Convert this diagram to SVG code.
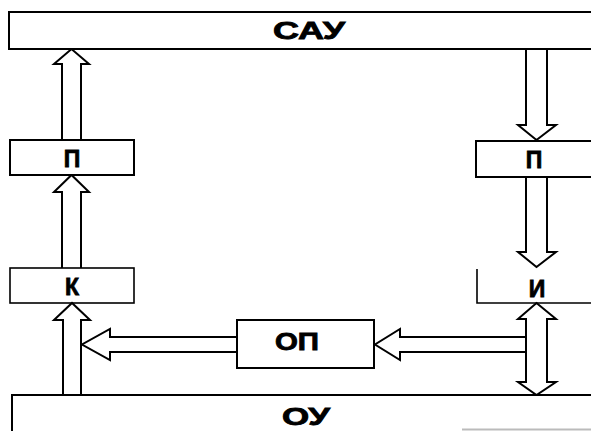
<svg xmlns="http://www.w3.org/2000/svg" width="591" height="431" viewBox="0 0 591 431">
  <style>
    .box { fill: #fff; stroke: #000; stroke-width: 2; }
    .thin { fill: none; stroke: #000; stroke-width: 1.6; }
    .arr { fill: #fff; stroke: #000; stroke-width: 2; stroke-linejoin: miter; }
    .lbl { font-family: "Liberation Sans", Arial, sans-serif; font-weight: 700; font-size: 23px; fill: #000; stroke: #000; stroke-width: 0.8; text-anchor: middle; }
  </style>
  <rect width="591" height="431" fill="#fff"/>

  <g id="connectors">
    <!-- П (left) -> САУ -->
    <path class="arr" d="M62,140 V64 H54 L71.5,49 L89,64 H81 V140"/>
    <!-- К -> П (left) -->
    <path class="arr" d="M62,268 V192 H54 L71.5,175 L89,192 H81 V268"/>
    <!-- ОУ -> К -->
    <path class="arr" d="M63,395 V320 H54 L72,303 L90,320 H81 V395"/>
    <!-- ОП -> left feedback -->
    <path class="arr" d="M237,337 H110 V329 L82,344.5 L110,360 V352 H237"/>
    <!-- right bus -> ОП -->
    <path class="arr" d="M526,337 H400 V329 L375,344.5 L400,360 V352 H526"/>
    <!-- САУ -> П (right) -->
    <path class="arr" d="M526,49 V125 H518 L536.5,140 L556,125 H547 V49"/>
    <!-- П (right) -> И -->
    <path class="arr" d="M526,177 V252 H518 L536.5,267 L556,252 H547 V177"/>
    <!-- И <-> ОУ -->
    <path class="arr" d="M536.5,303 L556,319 H547 V382 H556 L536.5,395 L518,382 H526 V319 H518 Z"/>
  </g>

  <g id="node-sau">
    <rect class="box" x="9" y="12" width="600" height="37"/>
    <text class="lbl" x="309" y="39" textLength="72" lengthAdjust="spacingAndGlyphs">САУ</text>
  </g>

  <g id="node-p-left">
    <rect class="box" x="10" y="140" width="124" height="35"/>
    <text class="lbl" x="72" y="167">П</text>
  </g>

  <g id="node-k">
    <rect class="thin" x="10" y="268" width="124" height="35"/>
    <text class="lbl" x="72" y="295">К</text>
  </g>

  <g id="node-p-right">
    <rect class="box" x="476" y="141" width="130" height="36"/>
    <text class="lbl" x="534" y="168">П</text>
  </g>

  <g id="node-i">
    <path class="thin" d="M477,269 V303 H591"/>
    <text class="lbl" x="537" y="297">И</text>
  </g>

  <g id="node-op">
    <rect class="box" x="237" y="320" width="137" height="48"/>
    <text class="lbl" x="297" y="350" textLength="44" lengthAdjust="spacingAndGlyphs">ОП</text>
  </g>

  <g id="node-ou">
    <path class="box" d="M12,440 V395 H600" fill="none"/>
    <line x1="462" y1="429.5" x2="591" y2="429.5" stroke="#bbb" stroke-width="2"/>
    <text class="lbl" x="306" y="425" textLength="48" lengthAdjust="spacingAndGlyphs">ОУ</text>
  </g>
</svg>
